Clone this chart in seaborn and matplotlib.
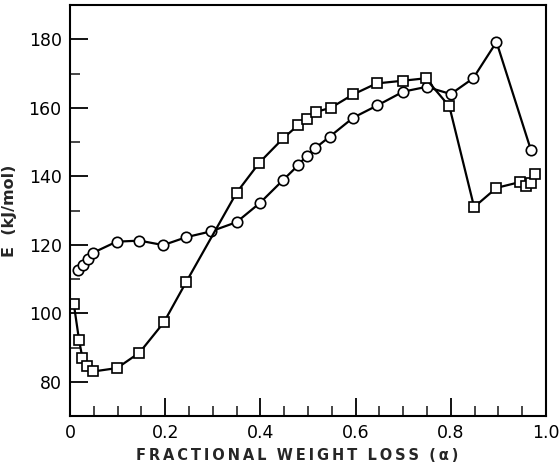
import matplotlib
matplotlib.use("Agg")
import matplotlib.pyplot as plt
import seaborn as sns
import pandas as pd
from matplotlib.ticker import MultipleLocator

# Circles series
alpha_circ = [0.017, 0.027, 0.037, 0.049, 0.098, 0.146, 0.196, 0.244, 0.296, 0.350,
              0.399, 0.447, 0.480, 0.497, 0.515, 0.546, 0.595, 0.646, 0.700, 0.749,
              0.800, 0.847, 0.896, 0.968]
E_circ = [112.5, 114.2, 115.8, 117.7, 120.9, 121.2, 119.9, 122.2, 123.9, 126.6,
          132.2, 138.8, 143.3, 146.0, 148.2, 151.6, 157.1, 160.7, 164.7, 166.1,
          164.0, 168.6, 179.2, 147.8]

# Squares series
alpha_sq = [0.008, 0.019, 0.026, 0.036, 0.049, 0.099, 0.146, 0.197, 0.244, 0.350,
            0.398, 0.448, 0.480, 0.497, 0.517, 0.548, 0.595, 0.644, 0.700, 0.747,
            0.797, 0.849, 0.896, 0.945, 0.959, 0.968, 0.977]
E_sq = [102.7, 92.2, 87.0, 84.5, 83.0, 84.0, 88.5, 97.3, 109.1, 135.2,
        144.0, 151.1, 155.0, 156.7, 158.8, 160.0, 163.9, 167.1, 167.9, 168.6,
        160.4, 131.0, 136.6, 138.3, 137.1, 137.9, 140.6]

x_ticks = [0, 0.2, 0.4, 0.6, 0.8, 1.0]
x_ticklabels = ["0", "0.2", "0.4", "0.6", "0.8", "1.0"]
y_ticks = [80, 100, 120, 140, 160, 180]

sns.set_style("ticks")
plt.rcParams['font.family'] = ['DejaVu Sans']

fig = plt.figure(figsize=(5.59, 4.67), dpi=100)
ax = fig.add_axes([70/559, 51/467, 476/559, 411/467])

df_c = pd.DataFrame({"alpha": alpha_circ, "E": E_circ})
df_s = pd.DataFrame({"alpha": alpha_sq, "E": E_sq})

sns.lineplot(data=df_c, x="alpha", y="E", ax=ax, sort=False, estimator=None,
             color="black", linewidth=1.6, marker="o", markersize=7.5,
             markerfacecolor="white", markeredgecolor="black", markeredgewidth=1.2)
sns.lineplot(data=df_s, x="alpha", y="E", ax=ax, sort=False, estimator=None,
             color="black", linewidth=1.6, marker="s", markersize=7.5,
             markerfacecolor="white", markeredgecolor="black", markeredgewidth=1.2)

ax.set_xlim(0, 1.0)
ax.set_ylim(70, 190)
ax.set_xticks(x_ticks)
ax.set_xticklabels(x_ticklabels)
ax.set_yticks(y_ticks)
ax.xaxis.set_minor_locator(MultipleLocator(0.05))
ax.yaxis.set_minor_locator(MultipleLocator(10))
ax.tick_params(axis="both", which="major", direction="in", length=13, width=1.3,
               labelsize=12.5, colors="black", pad=6)
ax.tick_params(axis="both", which="minor", direction="in", length=7, width=1.2)
ax.tick_params(top=False, right=False, which="both")
for s in ax.spines.values():
    s.set_linewidth(1.5)
    s.set_color("black")

xl = "\u2009".join("FRACTIONAL") + "  " + "\u2009".join("WEIGHT") + "  " + "\u2009".join("LOSS") + "  (\u2009\u03b1\u2009)"
ax.set_xlabel(xl, fontsize=10.5, fontweight="bold")
ax.xaxis.set_label_coords(0.477, -0.078)
ax.set_ylabel("E  (kJ/mol)", fontsize=11.5, fontweight="bold", labelpad=8)

fig.savefig("out.png", dpi=100)
